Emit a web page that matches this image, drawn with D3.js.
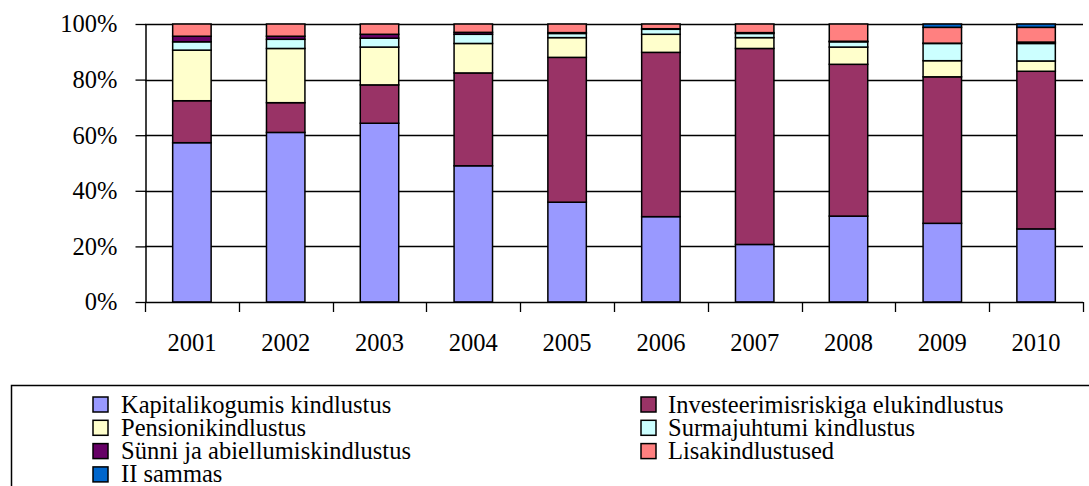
<!DOCTYPE html>
<html>
<head>
<meta charset="utf-8">
<script src="https://cdn.jsdelivr.net/npm/d3@7"></script>
<style>
  body { margin: 0; background: #fff; }
  svg text { font-family: "Times New Roman", Tinos, "Liberation Serif", Times, serif !important; fill: #000; }
</style>
</head>
<body>
<div id="chart"></div>
<script>
// DATA (percent shares per year)
// ---------------------------------------------------------------------------------------------
const years = ["2001", "2002", "2003", "2004", "2005", "2006", "2007", "2008", "2009", "2010"];
const kapital = [57.3, 61.0, 64.3, 49.0, 35.9, 30.7, 20.7, 30.9, 28.3, 26.3];
const invest = [15.1, 10.7, 13.8, 33.4, 52.1, 59.1, 70.5, 54.6, 52.7, 56.7];
const pension = [18.2, 19.5, 13.6, 10.6, 7.1, 6.5, 3.9, 6.2, 5.8, 3.7];
const surma = [3.0, 3.3, 3.2, 3.3, 1.5, 1.8, 1.5, 1.9, 6.2, 6.3];
const sunni = [2.0, 1.1, 1.4, 0.7, 0.3, 0.2, 0.3, 0.2, 0.1, 0.5];
const lisa = [4.4, 4.4, 3.7, 3.0, 3.1, 1.7, 3.1, 6.2, 5.7, 5.3];
const sammas = [0, 0, 0, 0, 0, 0, 0, 0, 1.2, 1.2];
const seriesNames = ["Kapitalikogumis kindlustus", "Investeerimisriskiga elukindlustus", "Pensionikindlustus",
  "Surmajuhtumi kindlustus", "Sünni ja abiellumiskindlustus", "Lisakindlustused", "II sammas"];
const seriesValues = [kapital, invest, pension, surma, sunni, lisa, sammas];
const colors = ["#9999FF", "#993366", "#FFFFCC", "#CCFFFF", "#660066", "#FF8080", "#0066CC"];
const yTicks = [0, 20, 40, 60, 80, 100];

// SETUP
// ---------------------------------------------------------------------------------------------
const W = 1089, H = 486;
const plot = { left: 145, right: 1083, top: 24, bottom: 302 };
const fontSize = "24.5px";

const svg = d3.select("#chart").append("svg")
  .attr("width", W).attr("height", H);

const x = d3.scaleBand(years, [plot.left, plot.right]).paddingInner(0.59).paddingOuter(0.295);
const y = d3.scaleLinear([0, 100], [plot.bottom, plot.top]);

const rows = years.map((yr, i) => {
  const r = { year: yr };
  seriesNames.forEach((s, k) => { r[s] = seriesValues[k][i]; });
  return r;
});
const stacked = d3.stack().keys(seriesNames)(rows);

// GRIDLINES
// ---------------------------------------------------------------------------------------------
svg.append("g").selectAll("line")
  .data(yTicks.filter(d => d > 0))
  .enter().append("line")
  .attr("x1", plot.left).attr("x2", plot.right)
  .attr("y1", d => Math.round(y(d)) + 0.5).attr("y2", d => Math.round(y(d)) + 0.5)
  .attr("stroke", "#000").attr("stroke-width", 1.3);

// BARS
// ---------------------------------------------------------------------------------------------
svg.append("g").selectAll("g")
  .data(stacked)
  .enter().append("g")
  .attr("fill", (d, i) => colors[i])
  .selectAll("rect")
  .data(d => d.filter(p => p[1] - p[0] > 0))
  .enter().append("rect")
  .attr("x", d => x(d.data.year))
  .attr("width", x.bandwidth())
  .attr("y", d => y(d[1]))
  .attr("height", d => y(d[0]) - y(d[1]))
  .attr("stroke", "#000")
  .attr("stroke-width", 1.5);

// AXES
// ---------------------------------------------------------------------------------------------
const yAxis = svg.append("g")
  .attr("transform", `translate(${plot.left + 0.5},0)`)
  .call(d3.axisLeft(y).tickValues(yTicks).tickFormat(d => d + "%").tickSize(10).tickPadding(18).tickSizeOuter(0));
yAxis.attr("font-family", null);
yAxis.select(".domain").attr("stroke", "#000").attr("stroke-width", 1.5);
yAxis.selectAll(".tick line").attr("stroke", "#000").attr("stroke-width", 1.3);
yAxis.selectAll("text").style("font-size", fontSize);

// category boundaries for x ticks
const step = (plot.right - plot.left) / years.length;
const xb = svg.append("g");
xb.append("line")
  .attr("x1", plot.left).attr("x2", plot.right)
  .attr("y1", plot.bottom + 0.5).attr("y2", plot.bottom + 0.5)
  .attr("stroke", "#000").attr("stroke-width", 1.5);
xb.selectAll("line.tk")
  .data(d3.range(years.length + 1))
  .enter().append("line")
  .attr("class", "tk")
  .attr("x1", i => Math.round(plot.left + i * step) + 0.5)
  .attr("x2", i => Math.round(plot.left + i * step) + 0.5)
  .attr("y1", plot.bottom).attr("y2", plot.bottom + 10)
  .attr("stroke", "#000").attr("stroke-width", 1.3);

const xAxis = svg.append("g")
  .attr("transform", `translate(0,${plot.bottom})`)
  .call(d3.axisBottom(x).tickSize(0).tickPadding(32));
xAxis.attr("font-family", null);
xAxis.select(".domain").remove();
xAxis.selectAll("text").style("font-size", fontSize);

// LEGEND
// ---------------------------------------------------------------------------------------------
svg.append("rect")
  .attr("x", 11.5).attr("y", 385.5)
  .attr("width", W + 20).attr("height", 200)
  .attr("fill", "none").attr("stroke", "#000").attr("stroke-width", 1.5);

const legend = svg.append("g").selectAll("g")
  .data(seriesNames)
  .enter().append("g")
  .attr("transform", (d, i) => `translate(${i % 2 === 0 ? 93 : 641},${397 + Math.floor(i / 2) * 23.3})`);

legend.append("rect")
  .attr("width", 15).attr("height", 15)
  .attr("fill", (d, i) => colors[i])
  .attr("stroke", "#000").attr("stroke-width", 1.5);

legend.append("text")
  .attr("x", (d, i) => i % 2 === 0 ? 28 : 27)
  .attr("y", 15.5)
  .style("font-size", fontSize)
  .text(d => d);
</script>
</body>
</html>
